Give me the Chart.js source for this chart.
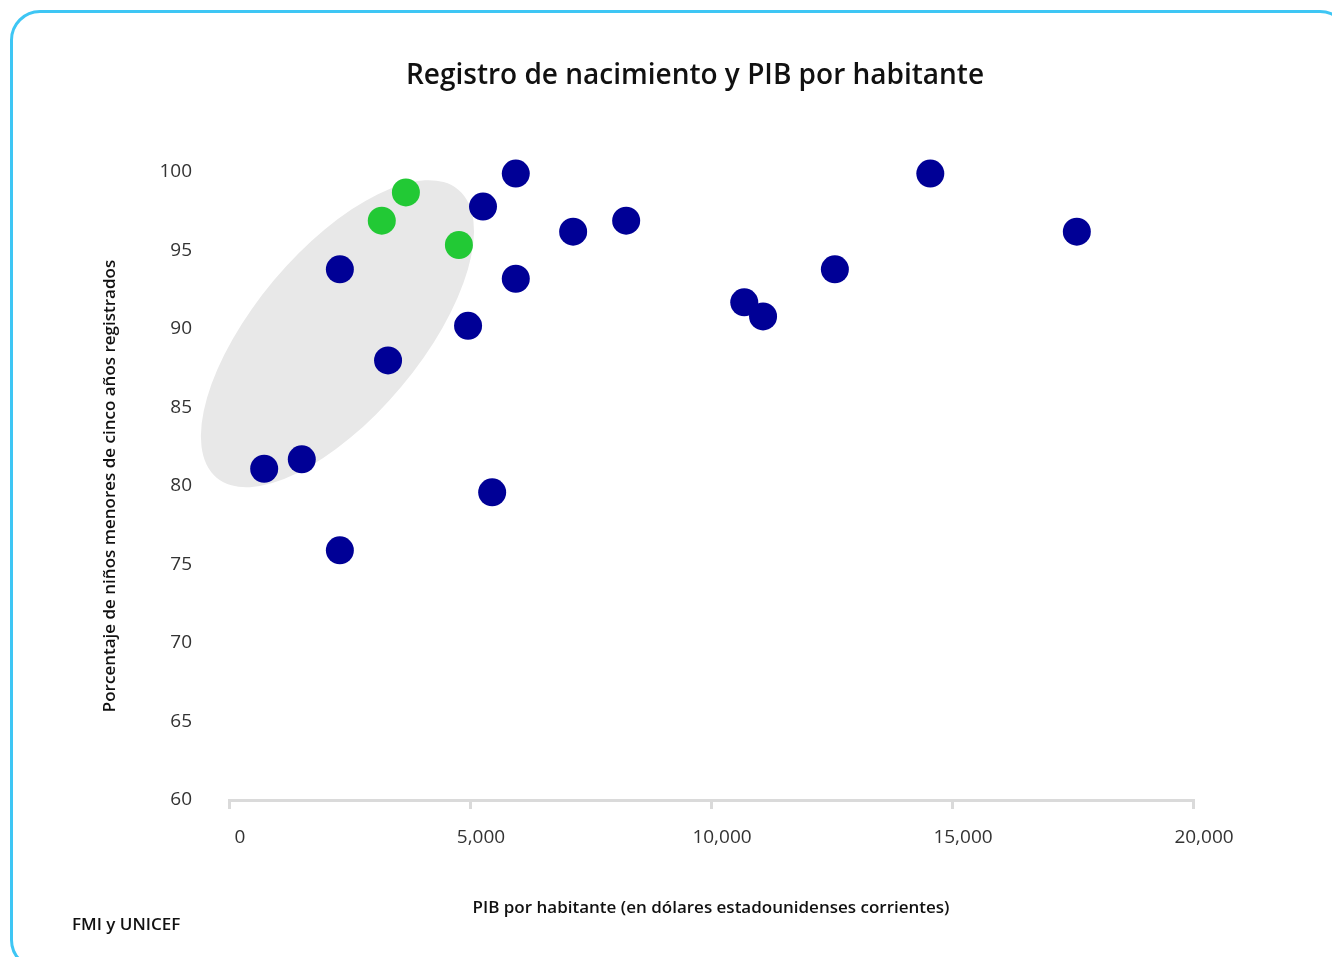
<!DOCTYPE html>
<html lang="es">
  <head>
    <meta charset="UTF-8" />
    <script src="https://cdn.jsdelivr.net/npm/chart.js"></script>
    <title>Registro de nacimiento y PIB por habitante</title>
    <style>
      html, body { margin: 0; padding: 0; background: #fff; overflow: hidden; }
      .marco {
        position: absolute; left: 10px; top: 10px;
        width: 1340px; height: 960px;
        border: 3px solid #3ec6f4; border-radius: 30px;
        box-sizing: border-box;
      }
      .grafico { position: absolute; left: 0; top: 0; width: 1332px; height: 957px; }
    </style>
  </head>
  <body>
    <div class="marco"></div>
    <div class="grafico"><canvas id="graficoPib"></canvas></div>

<script>
  // PIB por habitante (US$) y % de registro
  const pibAzul = [730, 1510, 2300, 2300, 3300, 4960, 5270, 5460, 5950, 5950, 7140, 8240, 10690, 11080, 12570, 14550, 17590];
  const registroAzul = [81.1, 81.7, 93.8, 75.9, 88.0, 90.2, 97.8, 79.6, 99.9, 93.2, 96.2, 96.9, 91.7, 90.8, 93.8, 99.9, 96.2];
  const pibVerde = [3170, 3670, 4770];
  const registroVerde = [96.9, 98.7, 95.35];

  const ticksX = [0, 5000, 10000, 15000, 20000];
  const ticksY = [60, 65, 70, 75, 80, 85, 90, 95, 100];

  const titulo = "Registro de nacimiento y PIB por habitante";
  const fuente = "FMI y UNICEF";

  // zona sombreada (centro en unidades del grafico)
  const elipseCentro = { x: 2250, y: 89.7 };

  function juntar(xs, ys) {
    let pts = [];
    for (let i = 0; i < xs.length; i++) {
      pts.push({ x: xs[i], y: ys[i] });
    }
    return pts;
  }

  // elipse gris detras de los puntos, titulo y fuente
  const pluginExtras = {
    id: "extras",
    beforeDatasetsDraw(chart) {
      const ctx = chart.ctx;
      const cx = chart.scales.x.getPixelForValue(elipseCentro.x);
      const cy = chart.scales.y.getPixelForValue(elipseCentro.y);
      ctx.save();
      ctx.fillStyle = "#e8e8e8";
      ctx.beginPath();
      ctx.ellipse(cx, cy, 188, 83, -50 * Math.PI / 180, 0, Math.PI * 2);
      ctx.fill();
      ctx.restore();
    },
    afterDraw(chart) {
      const ctx = chart.ctx;
      ctx.save();
      ctx.fillStyle = "#111";
      ctx.textBaseline = "middle";
      ctx.textAlign = "center";
      ctx.font = "600 28px 'Open Sans'";
      ctx.fillText(titulo, 695, 76);
      ctx.textAlign = "left";
      ctx.font = "600 17px 'Open Sans'";
      ctx.fillText(fuente, 72, 925);
      ctx.restore();
    }
  };

  const config = {
    type: "scatter",
    data: {
      datasets: [
        {
          label: "Otros",
          data: juntar(pibAzul, registroAzul),
          backgroundColor: "#000096",
          borderWidth: 0,
          pointRadius: 14,
          pointHoverRadius: 14,
          clip: false
        },
        {
          label: "Destacados",
          data: juntar(pibVerde, registroVerde),
          backgroundColor: "#22c935",
          borderWidth: 0,
          pointRadius: 14,
          pointHoverRadius: 14,
          clip: false
        }
      ]
    },
    options: {
      responsive: true,
      maintainAspectRatio: false,
      animation: false,
      layout: { padding: { left: 100, right: 139, top: 172, bottom: 39 } },
      plugins: {
        legend: { display: false },
        tooltip: { enabled: false },
        title: { display: false }
      },
      scales: {
        x: {
          type: "linear",
          min: 0,
          max: 20000,
          afterBuildTicks: (axis) => { axis.ticks = ticksX.map(v => ({ value: v })); },
          afterFit: (axis) => { axis.height = 118; },
          border: { display: true, color: "#dadada", width: 3 },
          grid: { drawOnChartArea: false, drawTicks: true, tickLength: 9, color: "#dadada", lineWidth: 3 },
          ticks: {
            color: "#333",
            font: { family: "Open Sans", size: 19 },
            padding: 17,
            labelOffset: 11,
            callback: (v) => v.toLocaleString("en-US")
          },
          title: {
            display: true,
            text: "PIB por habitante (en dólares estadounidenses corrientes)",
            color: "#111",
            font: { family: "Open Sans", size: 17, weight: "600" },
            padding: 0
          }
        },
        y: {
          type: "linear",
          min: 60,
          max: 100,
          afterBuildTicks: (axis) => { axis.ticks = ticksY.map(v => ({ value: v })); },
          afterFit: (axis) => { axis.width = 129; },
          border: { display: false },
          grid: { display: false, drawTicks: false },
          ticks: {
            color: "#333",
            font: { family: "Open Sans", size: 19 },
            padding: 37
          },
          title: {
            display: true,
            text: "Porcentaje de niños menores de cinco años registrados",
            color: "#111",
            font: { family: "Open Sans", size: 17, weight: "600" },
            padding: 0
          }
        }
      }
    },
    plugins: [pluginExtras]
  };

  new Chart(document.getElementById("graficoPib"), config);
</script>
  </body>
</html>
